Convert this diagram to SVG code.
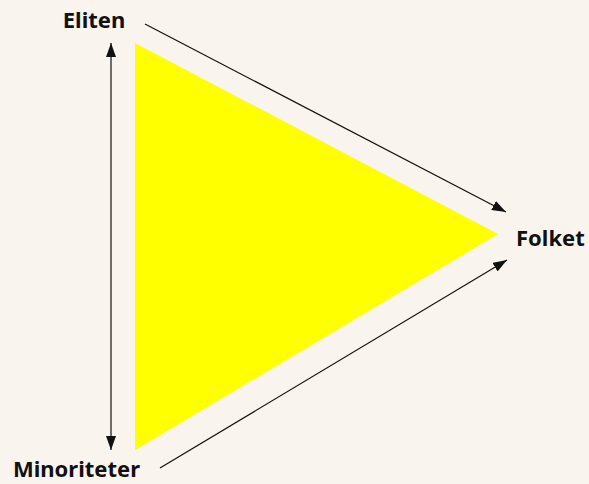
<svg xmlns="http://www.w3.org/2000/svg" width="589" height="484" viewBox="0 0 589 484">
<defs>
<style>
.lbl{font-family:"Noto Sans","Liberation Sans",sans-serif;font-weight:bold;font-size:22px;fill:#111}
.con{stroke:#111;stroke-width:1.2;fill:none}
</style>
<marker id="ah" viewBox="0 0 10 10" refX="10" refY="5" markerWidth="14" markerHeight="10" markerUnits="userSpaceOnUse" orient="auto-start-reverse" preserveAspectRatio="none">
<path d="M0,0 L10,5 L0,10 Z" fill="#111"/>
</marker>
</defs>
<rect width="589" height="484" fill="#faf4ee"/>
<g id="triangle"><polygon points="135,43 498,234 135,450" fill="#ffff00"/></g>
<g id="connectors">
<line class="con" x1="111" y1="43" x2="111" y2="450" marker-start="url(#ah)" marker-end="url(#ah)"/>
<line class="con" x1="145" y1="24" x2="506" y2="212" marker-end="url(#ah)"/>
<line class="con" x1="160" y1="468" x2="507" y2="260" marker-end="url(#ah)"/>
</g>
<g id="eliten"><text class="lbl" x="94" y="28" text-anchor="middle">Eliten</text></g>
<g id="folket"><text class="lbl" x="516" y="246">Folket</text></g>
<g id="minoriteter"><text class="lbl" x="13" y="477">Minoriteter</text></g>
</svg>
